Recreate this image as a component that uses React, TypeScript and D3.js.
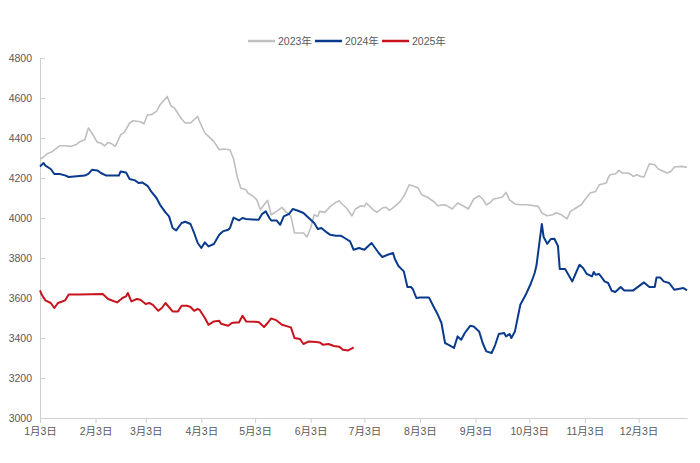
import React from "react";
import * as d3 from "d3";

type Punto = [string, number];

const anos = ["2023年", "2024年", "2025年"];
const cores = ["#bfbfbf", "#0a3a8c", "#c8141e"];
const larguras = [1.6, 2, 2];

const yTicks = [3000, 3200, 3400, 3600, 3800, 4000, 4200, 4400, 4600, 4800];
const xInicio = "01-03";
const xFim = "12-30";

const dados2023: Punto[] = [
    ["01-03", 4295], ["01-05", 4305], ["01-07", 4321], ["01-10", 4333], ["01-11", 4341],
    ["01-14", 4361], ["01-17", 4361], ["01-20", 4358], ["01-23", 4366], ["01-25", 4380],
    ["01-28", 4391], ["01-30", 4450], ["02-01", 4425], ["02-04", 4378], ["02-06", 4375],
    ["02-08", 4361], ["02-10", 4378], ["02-12", 4371], ["02-14", 4358], ["02-17", 4416],
    ["02-19", 4428], ["02-22", 4475], ["02-24", 4486], ["02-28", 4481], ["03-02", 4471],
    ["03-04", 4516], ["03-06", 4516], ["03-09", 4533], ["03-11", 4566], ["03-15", 4608],
    ["03-17", 4561], ["03-19", 4550], ["03-23", 4495], ["03-25", 4475], ["03-28", 4475],
    ["04-01", 4508], ["04-02", 4483], ["04-05", 4425], ["04-07", 4408], ["04-10", 4383],
    ["04-13", 4341], ["04-15", 4345], ["04-19", 4341], ["04-21", 4295], ["04-23", 4208],
    ["04-25", 4150], ["04-28", 4141], ["04-29", 4125], ["05-02", 4108], ["05-04", 4091],
    ["05-06", 4041], ["05-08", 4066], ["05-10", 4088], ["05-12", 4016], ["05-15", 4033],
    ["05-18", 4053], ["05-20", 4033], ["05-23", 4008], ["05-25", 3925], ["05-28", 3925],
    ["05-30", 3925], ["06-01", 3905], ["06-03", 3950], ["06-05", 4016], ["06-07", 4008],
    ["06-08", 4033], ["06-11", 4028], ["06-14", 4058], ["06-17", 4078], ["06-19", 4086],
    ["06-20", 4075], ["06-23", 4050], ["06-26", 4011], ["06-28", 4045], ["07-01", 4061],
    ["07-03", 4058], ["07-04", 4075], ["07-06", 4058], ["07-08", 4041], ["07-10", 4028],
    ["07-13", 4050], ["07-15", 4054], ["07-17", 4038], ["07-20", 4058], ["07-23", 4083],
    ["07-25", 4108], ["07-28", 4166], ["07-31", 4158], ["08-02", 4150], ["08-04", 4116],
    ["08-07", 4105], ["08-11", 4080], ["08-13", 4061], ["08-16", 4066], ["08-18", 4062],
    ["08-21", 4045], ["08-24", 4075], ["08-27", 4061], ["08-30", 4045], ["09-02", 4095],
    ["09-05", 4111], ["09-07", 4095], ["09-09", 4066], ["09-11", 4075], ["09-13", 4095],
    ["09-16", 4100], ["09-18", 4105], ["09-20", 4128], ["09-22", 4091], ["09-25", 4070],
    ["09-28", 4066], ["10-02", 4066], ["10-08", 4058], ["10-10", 4025], ["10-13", 4011],
    ["10-16", 4016], ["10-18", 4026], ["10-21", 4016], ["10-24", 3996], ["10-26", 4033],
    ["10-29", 4050], ["11-01", 4066], ["11-03", 4091], ["11-06", 4125], ["11-09", 4133],
    ["11-11", 4166], ["11-15", 4175], ["11-16", 4200], ["11-17", 4216], ["11-20", 4220],
    ["11-22", 4238], ["11-24", 4225], ["11-27", 4225], ["11-29", 4216], ["11-30", 4208],
    ["12-02", 4216], ["12-04", 4208], ["12-06", 4205], ["12-09", 4271], ["12-12", 4266],
    ["12-14", 4245], ["12-17", 4233], ["12-19", 4225], ["12-21", 4233], ["12-23", 4255],
    ["12-27", 4258], ["12-30", 4253],
];

const dados2024: Punto[] = [
    ["01-03", 4258], ["01-05", 4275], ["01-06", 4262], ["01-09", 4245], ["01-11", 4220],
    ["01-14", 4220], ["01-17", 4213], ["01-19", 4205], ["01-22", 4208], ["01-28", 4212],
    ["01-30", 4221], ["02-01", 4241], ["02-04", 4238], ["02-06", 4225], ["02-09", 4212],
    ["02-16", 4212], ["02-17", 4233], ["02-20", 4228], ["02-22", 4195], ["02-25", 4188],
    ["02-27", 4175], ["03-01", 4178], ["03-04", 4161], ["03-06", 4133], ["03-09", 4100],
    ["03-11", 4066], ["03-14", 4028], ["03-16", 4008], ["03-18", 3950], ["03-20", 3938],
    ["03-23", 3975], ["03-25", 3981], ["03-28", 3970], ["03-30", 3925], ["04-01", 3875],
    ["04-03", 3850], ["04-05", 3878], ["04-07", 3858], ["04-10", 3870], ["04-13", 3916],
    ["04-15", 3933], ["04-18", 3941], ["04-19", 3950], ["04-21", 4002], ["04-24", 3988],
    ["04-26", 4000], ["04-28", 3995], ["05-05", 3991], ["05-07", 4021], ["05-09", 4033],
    ["05-11", 4000], ["05-12", 3988], ["05-15", 3988], ["05-17", 3966], ["05-19", 4008],
    ["05-22", 4021], ["05-24", 4045], ["05-27", 4036], ["05-30", 4025], ["06-02", 4000],
    ["06-05", 3975], ["06-07", 3945], ["06-09", 3950], ["06-12", 3928], ["06-14", 3916],
    ["06-17", 3911], ["06-20", 3911], ["06-22", 3900], ["06-25", 3883], ["06-27", 3841],
    ["06-30", 3850], ["07-03", 3841], ["07-04", 3850], ["07-07", 3875], ["07-09", 3850],
    ["07-11", 3825], ["07-13", 3805], ["07-16", 3816], ["07-19", 3825], ["07-20", 3795],
    ["07-22", 3760], ["07-25", 3733], ["07-27", 3655], ["07-29", 3655], ["07-30", 3645],
    ["08-01", 3600], ["08-03", 3603], ["08-08", 3603], ["08-11", 3550], ["08-13", 3516],
    ["08-15", 3475], ["08-17", 3375], ["08-19", 3366], ["08-22", 3350], ["08-24", 3408],
    ["08-26", 3391], ["08-28", 3425], ["08-31", 3461], ["09-02", 3458], ["09-05", 3433],
    ["09-07", 3375], ["09-09", 3333], ["09-12", 3325], ["09-14", 3366], ["09-16", 3420],
    ["09-19", 3425], ["09-20", 3408], ["09-22", 3420], ["09-23", 3400], ["09-25", 3433],
    ["09-28", 3566], ["10-01", 3616], ["10-04", 3675], ["10-06", 3725], ["10-07", 3762],
    ["10-10", 3970], ["10-11", 3905], ["10-13", 3871], ["10-15", 3895], ["10-17", 3896],
    ["10-19", 3860], ["10-20", 3745], ["10-23", 3745], ["10-27", 3683], ["10-29", 3725],
    ["10-31", 3766], ["11-02", 3750], ["11-04", 3721], ["11-07", 3708], ["11-08", 3730],
    ["11-09", 3716], ["11-11", 3720], ["11-14", 3683], ["11-16", 3675], ["11-18", 3636],
    ["11-20", 3630], ["11-23", 3655], ["11-25", 3638], ["11-30", 3638], ["12-03", 3658],
    ["12-06", 3678], ["12-09", 3655], ["12-12", 3655], ["12-13", 3703], ["12-15", 3703],
    ["12-17", 3683], ["12-20", 3675], ["12-23", 3641], ["12-28", 3650], ["12-30", 3638],
];

const dados2025: Punto[] = [
    ["01-03", 3638], ["01-04", 3616], ["01-06", 3588], ["01-09", 3575], ["01-11", 3550],
    ["01-13", 3575], ["01-15", 3581], ["01-17", 3588], ["01-19", 3618], ["01-25", 3618],
    ["02-07", 3620], ["02-10", 3595], ["02-15", 3578], ["02-18", 3600], ["02-20", 3608],
    ["02-21", 3625], ["02-23", 3583], ["02-26", 3595], ["02-28", 3591], ["03-03", 3570],
    ["03-05", 3575], ["03-07", 3566], ["03-10", 3536], ["03-12", 3550], ["03-14", 3575],
    ["03-18", 3533], ["03-21", 3533], ["03-23", 3561], ["03-26", 3561], ["03-28", 3555],
    ["03-30", 3536], ["04-01", 3545], ["04-02", 3541], ["04-05", 3500], ["04-07", 3466],
    ["04-10", 3483], ["04-13", 3486], ["04-14", 3471], ["04-18", 3461], ["04-20", 3475],
    ["04-22", 3478], ["04-24", 3478], ["04-26", 3511], ["04-28", 3483], ["05-05", 3480],
    ["05-08", 3455], ["05-10", 3475], ["05-12", 3498], ["05-15", 3488], ["05-18", 3466],
    ["05-23", 3453], ["05-25", 3400], ["05-28", 3395], ["05-30", 3370], ["06-02", 3383],
    ["06-06", 3380], ["06-08", 3378], ["06-10", 3366], ["06-13", 3370], ["06-16", 3360],
    ["06-19", 3356], ["06-21", 3341], ["06-24", 3338], ["06-27", 3353],
];

const series = [dados2023, dados2024, dados2025];

// todos os anos sobrepostos no mesmo calendário
const parseData = d3.timeParse("%Y-%m-%d");
const data = (md: string) => parseData(`2023-${md}`) as Date;

const LARGURA = 700;
const ALTURA = 463;
const margem = {top: 58, right: 13, bottom: 45, left: 40};
const fonte = "'Liberation Sans', Arial, 'Noto Sans CJK SC', sans-serif";

export default class App extends React.Component<{}, {}> {
    private readonly ref: React.RefObject<SVGSVGElement | null> = React.createRef<SVGSVGElement>();

    componentDidMount() {
        this.renderiza(d3.select(this.ref.current as SVGSVGElement));
    }

    renderiza(svg: d3.Selection<SVGSVGElement, unknown, null, undefined>) {
        svg.selectAll("*").remove();

        const x = d3
            .scaleTime()
            .domain([data(xInicio), data(xFim)])
            .range([margem.left, LARGURA - margem.right]);

        const y = d3
            .scaleLinear()
            .domain([yTicks[0], yTicks[yTicks.length - 1]])
            .range([ALTURA - margem.bottom, margem.top]);

        const xTicks = d3.range(12).map((m) => new Date(2023, m, 3));
        const formato = d3.timeFormat("%-m月%-d日");

        svg.append("g")
            .attr("transform", `translate(0, ${ALTURA - margem.bottom})`)
            .call(d3.axisBottom(x).tickValues(xTicks).tickFormat((d) => formato(d as Date)).tickSize(5).tickSizeOuter(0).tickPadding(5))
            .call((g) => g.select(".domain").attr("stroke", "#cfcfcf"))
            .call((g) => g.selectAll(".tick line").attr("stroke", "#cfcfcf"))
            .call((g) => g.selectAll(".tick text").attr("fill", "#595959").style("font-size", "10.5px").style("font-family", fonte));

        svg.append("g")
            .attr("transform", `translate(${margem.left}, 0)`)
            .call(d3.axisLeft(y).tickValues(yTicks).tickFormat(d3.format("d")).tickSize(-5).tickSizeOuter(0).tickPadding(8))
            .call((g) => g.select(".domain").attr("stroke", "#cfcfcf"))
            .call((g) => g.selectAll(".tick line").attr("stroke", "#cfcfcf"))
            .call((g) => g.selectAll(".tick text").attr("fill", "#595959").style("font-size", "10.5px").style("font-family", fonte));

        const linha = d3.line<Punto>()
            .x((d) => x(data(d[0])))
            .y((d) => y(d[1]));

        svg.append("g")
            .attr("fill", "none")
            .selectAll("path")
            .data(series)
            .join("path")
            .attr("d", (d) => linha(d))
            .attr("stroke", (_, i) => cores[i])
            .attr("stroke-width", (_, i) => larguras[i])
            .attr("stroke-linejoin", "round");

        // legenda centrada no topo
        const legenda = svg.append("g")
            .attr("transform", "translate(248, 41)")
            .style("font-family", fonte)
            .style("font-size", "10.5px");

        const item = legenda.selectAll("g")
            .data(anos)
            .join("g")
            .attr("transform", (_, i) => `translate(${i * 67}, 0)`);

        item.append("line")
            .attr("x1", 0)
            .attr("x2", 27)
            .attr("stroke", (_, i) => cores[i])
            .attr("stroke-width", 2.5);

        item.append("text")
            .attr("x", 30)
            .attr("dy", "0.35em")
            .attr("fill", "#595959")
            .text((d) => d);
    }

    render() {
        return <svg
            ref={this.ref}
            width={LARGURA}
            height={ALTURA}
            style={{position: "absolute", left: 0, top: 0, background: "white"}}
        />;
    }
}
